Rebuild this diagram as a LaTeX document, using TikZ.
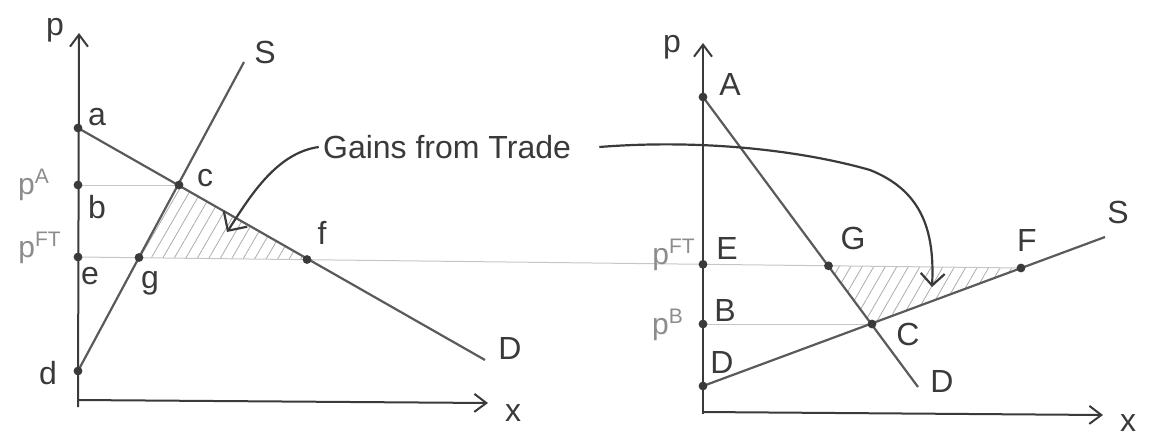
\documentclass[tikz,border=0pt]{standalone}
\usepackage{fontspec}
\setmainfont{Liberation Sans}
\usetikzlibrary{arrows.meta,patterns.meta}
\definecolor{pencil}{HTML}{3A3A3A}
\definecolor{pencilmid}{HTML}{5A5A5A}
\definecolor{guide}{HTML}{C6C6C6}
\definecolor{plabel}{HTML}{8C8C8C}
\begin{document}
\begin{tikzpicture}[x=0.5pt,y=-0.5pt,
  axis/.style={draw=pencil, line width=1pt, -{Straight Barb[length=6pt,width=9pt,line width=1pt]}},
  curveline/.style={draw=pencilmid, line width=1.1pt},
  guideline/.style={draw=guide, line width=0.5pt},
  dot/.style={fill=pencil},
  lbl/.style={text=pencil, font=\fontsize{16}{18}\selectfont, inner sep=0pt},
  plbl/.style={text=plabel, font=\fontsize{15}{17}\selectfont, inner sep=0pt},
  hatch/.style={pattern={Lines[angle=60,distance=5pt,line width=0.4pt]}, pattern color=gray!65},
  note/.style={draw=pencil, line width=1.1pt}
]
\useasboundingbox (0,0) rectangle (1152,440);

% ---------- left panel coordinates ----------
\coordinate (Lytop) at (79,33);
\coordinate (Lybot) at (78,407);
\coordinate (Lo) at (78,400);
\coordinate (Lxend) at (488,403);
\coordinate (a) at (78,128);
\coordinate (pAdot) at (78,185);
\coordinate (c) at (179,185);
\coordinate (e) at (78,257);
\coordinate (g) at (139,257.5);
\coordinate (f) at (307,259.5);
\coordinate (d) at (78,371);
\coordinate (Ldend) at (485,360);
\coordinate (Lsend) at (244,62);

% ---------- right panel coordinates ----------
\coordinate (Rytop) at (703,43);
\coordinate (Rybot) at (703,414);
\coordinate (Ro) at (703,412);
\coordinate (Rxend) at (1103,415);
\coordinate (A) at (703,97);
\coordinate (E) at (703,264.3);
\coordinate (B) at (703,324);
\coordinate (Dsup) at (703,386);
\coordinate (C) at (872,324);
\coordinate (G) at (828.5,265.8);
\coordinate (F) at (1021,268);
\coordinate (Rdend) at (918,387);
\coordinate (Rsend) at (1105,237);

% ---------- hatched gains ----------
\fill[hatch] (c) -- (g) -- (f) -- cycle;
\fill[hatch] (G) -- (F) -- (C) -- cycle;

% ---------- guide lines ----------
\draw[guideline] (pAdot) -- (c);
\draw[guideline] (e) -- (F);
\draw[guideline] (B) -- (C);

% ---------- axes ----------
\draw[axis] (Lybot) -- (Lytop);
\draw[axis] (Lo) -- (Lxend);
\draw[axis] (Rybot) -- (Rytop);
\draw[axis] (Ro) -- (Rxend);

% ---------- curves ----------
\draw[curveline] (a) -- (Ldend);
\draw[curveline] (d) -- (Lsend);
\draw[curveline] (A) -- (Rdend);
\draw[curveline] (Dsup) -- (Rsend);

% ---------- dots ----------
\foreach \p in {a,pAdot,c,e,g,f,d,A,E,B,Dsup,C,G,F}
  \fill[dot] (\p) circle (2.2pt);

% ---------- labels, left ----------
\node[lbl] (lpL) at (55,30) {p};
\node[lbl] (la) at (97,117) {a};
\node[lbl] (lb) at (97,207) {b};
\node[lbl] (lc) at (205,178) {c};
\node[lbl] (ld) at (48,373) {d};
\node[lbl] (le) at (90,276) {e};
\node[lbl] (lf) at (322,233) {f};
\node[lbl] (lg) at (150,283) {g};
\node[lbl] (lS) at (265,52) {S};
\node[lbl] (lD) at (510,348) {D};
\node[lbl] (lx) at (513,413) {x};
\node[plbl] (lpA) at (34,185) {p\textsuperscript{A}};
\node[plbl] (lpFT) at (40,248) {p\textsuperscript{FT}};

% ---------- labels, right ----------
\node[lbl] (rp) at (672,47) {p};
\node[lbl] (rA) at (730,84) {A};
\node[lbl] (rE) at (727,248) {E};
\node[lbl] (rG) at (853,238) {G};
\node[lbl] (rF) at (1027,240) {F};
\node[lbl] (rS) at (1118,212) {S};
\node[lbl] (rB) at (725,310) {B};
\node[lbl] (rC) at (908,334) {C};
\node[lbl] (rDs) at (722,362) {D};
\node[lbl] (rDd) at (942,381) {D};
\node[lbl] (rx) at (1128,423) {x};
\node[plbl] (rpFT) at (674,255) {p\textsuperscript{FT}};
\node[plbl] (rpB) at (668,325) {p\textsuperscript{B}};

% ---------- annotation ----------
\node[lbl, inner sep=2pt] (gains) at (447,147) {Gains from Trade};
\coordinate (tipL) at (227,232);
\coordinate (tipR) at (932,287);
\draw[note, -{Straight Barb[length=7pt,width=14pt,line width=1.1pt]}]
  (gains.west) .. controls (275,153) and (248,200) .. (tipL);
\draw[note, -{Straight Barb[length=6pt,width=12pt,line width=1.1pt]}]
  ([xshift=12pt]gains.east) .. controls (700,139) and (800,150) .. (870,170)
  .. controls (920,190) and (935,228) .. (tipR);
\end{tikzpicture}
\end{document}
